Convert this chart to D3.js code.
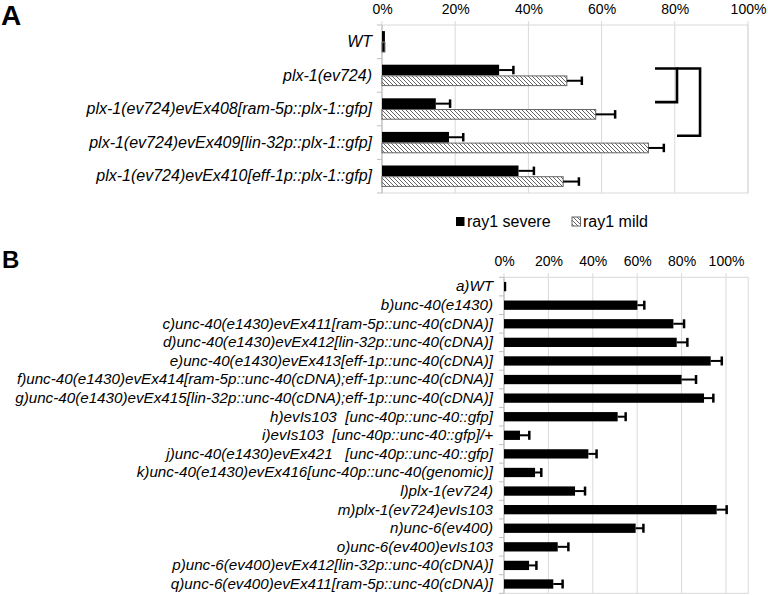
<!DOCTYPE html>
<html>
<head>
<meta charset="utf-8">
<script src="https://cdn.jsdelivr.net/npm/d3@7"></script>
<style>
  body { margin: 0; background: #fff; }
  svg { font-family: "Liberation Sans", Arial, sans-serif; }
  svg text { white-space: pre; }
</style>
</head>
<body>
<div id="chart"></div>
<script>
// ---- Panel A data (percent) ----
const categoriesA = [
    "WT",
    "plx-1(ev724)",
    "plx-1(ev724)evEx408[ram-5p::plx-1::gfp]",
    "plx-1(ev724)evEx409[lin-32p::plx-1::gfp]",
    "plx-1(ev724)evEx410[eff-1p::plx-1::gfp]"
];
const seriesA = ["ray1 severe", "ray1 mild"];
const severeA = [0.8, 32.0, 14.7, 18.3, 37.3];
const severeErrA = [0, 3.9, 3.9, 3.9, 4.2];
const mildA = [0.8, 50.5, 58.4, 72.8, 49.5];
const mildErrA = [0, 4.1, 5.3, 4.2, 4.3];
// significance brackets between severe bars (category index, x in percent)
const bracketsA = [
    {from: 1, to: 2, x0: 74.6, x1: 80.6},
    {from: 1, to: 3, x0: 80.6, x1: 86.9}
];

// ---- Panel B data (percent) ----
const categoriesB = [
    "a)WT",
    "b)unc-40(e1430)",
    "c)unc-40(e1430)evEx411[ram-5p::unc-40(cDNA)]",
    "d)unc-40(e1430)evEx412[lin-32p::unc-40(cDNA)]",
    "e)unc-40(e1430)evEx413[eff-1p::unc-40(cDNA)]",
    "f)unc-40(e1430)evEx414[ram-5p::unc-40(cDNA);eff-1p::unc-40(cDNA)]",
    "g)unc-40(e1430)evEx415[lin-32p::unc-40(cDNA);eff-1p::unc-40(cDNA)]",
    "h)evIs103  [unc-40p::unc-40::gfp]",
    "i)evIs103  [unc-40p::unc-40::gfp]/+",
    "j)unc-40(e1430)evEx421   [unc-40p::unc-40::gfp]",
    "k)unc-40(e1430)evEx416[unc-40p::unc-40(genomic)]",
    "l)plx-1(ev724)",
    "m)plx-1(ev724)evIs103",
    "n)unc-6(ev400)",
    "o)unc-6(ev400)evIs103",
    "p)unc-6(ev400)evEx412[lin-32p::unc-40(cDNA)]",
    "q)unc-6(ev400)evEx411[ram-5p::unc-40(cDNA)]"
];
const valuesB = [1.0, 60.1, 76.3, 77.8, 93.1, 80.0, 90.1, 51.2, 7.2, 38.0, 14.0, 32.0, 95.8, 59.3, 24.2, 11.3, 22.2];
const errB = [0, 3.1, 4.8, 4.8, 5.0, 6.5, 4.2, 3.6, 4.2, 3.7, 2.8, 4.5, 4.5, 3.5, 4.8, 3.3, 4.2];

const tickPct = [0, 20, 40, 60, 80, 100];

const width = 768, height = 595;
const gridColor = "#d9d9d9";

const svg = d3.select("#chart").append("svg")
    .attr("width", width)
    .attr("height", height);

// hatch pattern for the "mild" series
const defs = svg.append("defs");
const hatch = defs.append("pattern")
    .attr("id", "hatch")
    .attr("patternUnits", "userSpaceOnUse")
    .attr("width", 4)
    .attr("height", 4);
hatch.append("rect").attr("width", 4).attr("height", 4).attr("fill", "#fff");
hatch.append("path")
    .attr("d", "M-1,-1L5,5M-1,3L1,5M3,-1L5,1")
    .attr("stroke", "#555")
    .attr("stroke-width", 0.9);

// draws grid, frame, top axis and category labels for one panel
function drawFrame(x, y, xMax, labelSize, labelPad) {
    const top = y.range()[0], bottom = y.range()[1];
    const g = svg.append("g");

    g.selectAll(".grid")
        .data(tickPct)
        .join("line")
        .attr("x1", d => x(d)).attr("x2", d => x(d))
        .attr("y1", top - 4).attr("y2", bottom)
        .attr("stroke", gridColor);

    // plot frame
    g.append("rect")
        .attr("x", x(0)).attr("y", top)
        .attr("width", x(xMax) - x(0)).attr("height", bottom - top)
        .attr("fill", "none")
        .attr("stroke", gridColor);

    // left axis line + ticks between categories
    g.append("line")
        .attr("x1", x(0)).attr("x2", x(0))
        .attr("y1", top).attr("y2", bottom)
        .attr("stroke", "#bfbfbf");
    const bounds = y.domain().map(c => y(c)).concat([bottom]);
    g.selectAll(".ctick")
        .data(bounds)
        .join("line")
        .attr("x1", x(0) - 5).attr("x2", x(0))
        .attr("y1", d => d).attr("y2", d => d)
        .attr("stroke", "#bfbfbf");

    const xAxis = d3.axisTop(x)
        .tickValues(tickPct)
        .tickFormat(d => d + "%")
        .tickSize(0)
        .tickPadding(11.5);
    const ax = svg.append("g")
        .attr("transform", `translate(0,${top})`)
        .call(xAxis);
    ax.select(".domain").remove();
    ax.selectAll("text")
        .attr("font-size", 14)
        .attr("font-family", null)
        .attr("fill", "#000");

    const yAxis = d3.axisLeft(y).tickSize(0).tickPadding(labelPad);
    const ay = svg.append("g")
        .attr("transform", `translate(${x(0)},0)`)
        .call(yAxis);
    ay.select(".domain").remove();
    ay.selectAll("text")
        .attr("font-size", labelSize)
        .attr("font-family", null)
        .attr("font-style", "italic")
        .attr("fill", "#000");
}

function errorBar(g, x0, x1, cy, capH) {
    g.append("line")
        .attr("x1", x0).attr("x2", x1)
        .attr("y1", cy).attr("y2", cy)
        .attr("stroke", "#000").attr("stroke-width", 2);
    g.append("line")
        .attr("x1", x1).attr("x2", x1)
        .attr("y1", cy - capH / 2).attr("y2", cy + capH / 2)
        .attr("stroke", "#000").attr("stroke-width", 2.5);
}

// ================= Panel A =================
const xA = d3.scaleLinear().domain([0, 100]).range([382, 748]);
const yA = d3.scaleBand().domain(categoriesA).range([25, 193]);
const subA = d3.scaleBand().domain(seriesA).range([0, yA.bandwidth()]).paddingOuter(0.57);

drawFrame(xA, yA, 100, 16, 10);

const gA = svg.append("g");
const rowsA = categoriesA.map((c, i) => ({
    cat: c,
    bars: [
        {s: seriesA[0], v: severeA[i], e: severeErrA[i]},
        {s: seriesA[1], v: mildA[i], e: mildErrA[i]}
    ]
}));

rowsA.forEach(r => {
    r.bars.forEach(b => {
        const yy = yA(r.cat) + subA(b.s);
        const isSevere = b.s === seriesA[0];
        const w = xA(b.v) - xA(0);
        gA.append("rect")
            .attr("x", xA(0))
            .attr("y", isSevere ? yy : yy + 0.5)
            .attr("width", w)
            .attr("height", isSevere ? subA.bandwidth() : subA.bandwidth() - 1)
            .attr("fill", isSevere ? "#000" : (w < 5 ? "#000" : "url(#hatch)"))
            .attr("stroke", isSevere ? "none" : "#666")
            .attr("stroke-width", 1);
        if (b.e > 0) {
            errorBar(gA, xA(b.v), xA(b.v + b.e), yy + subA.bandwidth() / 2, 8.5);
        }
    });
});

// significance brackets
const sevCenter = i => yA(categoriesA[i]) + subA(seriesA[0]) + subA.bandwidth() / 2 - 1.5;
bracketsA.forEach(b => {
    const y0 = sevCenter(b.from), y1 = sevCenter(b.to);
    gA.append("path")
        .attr("d", `M${xA(b.x0)},${y0}H${xA(b.x1)}V${y1}H${xA(b.x0)}`)
        .attr("fill", "none")
        .attr("stroke", "#000")
        .attr("stroke-width", 2.6);
});

// legend
const legend = svg.append("g").attr("font-size", 16);
const legendItems = [
    {label: seriesA[0], x: 456, fill: "#000", stroke: "none"},
    {label: seriesA[1], x: 572, fill: "url(#hatch)", stroke: "#666"}
];
legendItems.forEach(d => {
    legend.append("rect")
        .attr("x", d.x).attr("y", 217)
        .attr("width", 8.5).attr("height", 9)
        .attr("fill", d.fill)
        .attr("stroke", d.stroke);
    legend.append("text")
        .attr("x", d.x + 11).attr("y", 226.5)
        .text(d.label);
});

// ================= Panel B =================
const xB = d3.scaleLinear().domain([0, 110]).range([504, 748.2]);
const yB = d3.scaleBand().domain(categoriesB).range([277.3, 593.3]);

drawFrame(xB, yB, 110, 15.2, 11);

const gB = svg.append("g");
const barH = yB.bandwidth() * 0.5;
categoriesB.forEach((c, i) => {
    const yy = yB(c) + (yB.bandwidth() - barH) / 2;
    gB.append("rect")
        .attr("x", xB(0))
        .attr("y", yy)
        .attr("width", xB(valuesB[i]) - xB(0))
        .attr("height", barH)
        .attr("fill", "#000");
    if (errB[i] > 0) {
        errorBar(gB, xB(valuesB[i]), xB(valuesB[i] + errB[i]), yy + barH / 2, 9);
    }
});

// panel letters
svg.append("text").attr("x", 1).attr("y", 25)
    .attr("font-size", 28).attr("font-weight", "bold").text("A");
svg.append("text").attr("x", 2).attr("y", 267.5)
    .attr("font-size", 24).attr("font-weight", "bold").text("B");
</script>
</body>
</html>
